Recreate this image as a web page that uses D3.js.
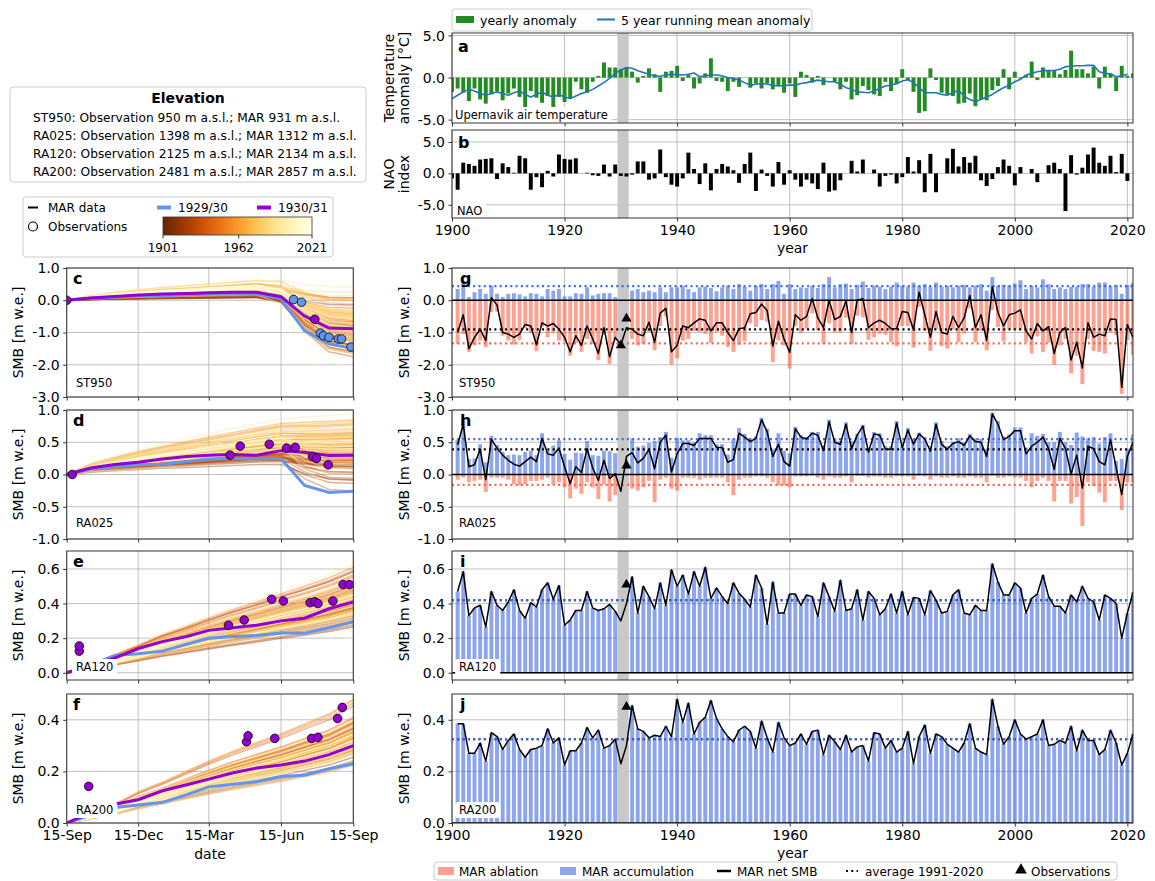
<!DOCTYPE html>
<html><head><meta charset="utf-8">
<script src="https://cdn.jsdelivr.net/npm/d3@7"></script>
<style>body{margin:0;background:#fff} text{font-family:"DejaVu Sans",sans-serif}</style>
</head><body><script>
// ---------------- DATA ----------------
const tempYears = d3.range(1900, 2022);
const tempAnomaly = [-1.7,-1.3,-1.8,-2.8,-1.3,-2.6,-3.1,-2.0,-1.6,-2.7,
-1.9,-1.3,-2.3,-3.5,-1.6,-2.4,-3.0,-2.2,-3.9,-2.3,
-2.9,-2.5,-0.5,-1.4,-1.8,-0.5,0.2,1.8,1.2,1.2,
1.0,1.2,0.7,-0.6,0.2,1.1,0.4,-1.7,0.7,0.8,
1.4,-0.4,0.3,-1.3,-0.7,0.5,2.3,-0.4,-0.5,-1.6,
-0.5,-1.1,0.0,-1.2,-0.7,-1.3,-0.7,-1.4,-1.0,-1.8,
-0.7,-2.3,0.7,0.3,-0.6,0.2,-0.9,0.0,-0.5,-1.4,
-0.5,-2.6,-2.1,-1.0,-1.5,-2.0,-2.2,-0.5,-1.6,-0.8,
1.0,-0.3,-1.7,-4.2,-4.0,1.1,-0.3,-1.8,-2.0,-2.2,
-3.1,-3.0,-1.9,-3.4,-2.6,-2.7,-1.5,-1.0,1.0,-1.4,
0.7,-0.1,0.3,1.9,-0.3,1.2,0.8,0.8,0.4,0.9,
3.2,1.0,1.0,0.5,1.3,-1.3,1.3,0.5,-1.6,1.4,
0.2,0.5];
const runYears = d3.range(1900, 2021);
const runningMean = [-2.5,-2.1,-1.7,-1.4,-1.6,-1.9,-2.1,-1.9,-1.7,-1.9,
-2.1,-1.8,-1.6,-2.0,-2.3,-2.0,-1.7,-2.1,-2.3,-2.0,
-2.3,-2.5,-2.2,-1.9,-1.7,-1.4,-1.0,-0.6,-0.1,0.5,
0.9,1.2,1.1,0.8,0.6,0.4,0.2,0.15,0.3,0.4,
0.35,0.3,0.4,0.55,0.1,0.2,0.3,0.3,0.2,0.0,
-0.1,-0.3,-0.6,-0.9,-0.8,-0.7,-0.8,-0.9,-1.0,-0.95,
-0.9,-0.9,-0.7,-0.6,-0.45,-0.3,-0.4,-0.5,-0.5,-0.8,
-1.2,-1.4,-1.7,-1.75,-1.8,-1.6,-1.3,-1.0,-0.9,-0.7,
-0.4,-0.25,-0.6,-1.2,-1.8,-1.8,-1.8,-2.0,-2.1,-1.8,
-1.5,-2.2,-2.6,-2.85,-2.6,-2.3,-2.0,-1.6,-1.2,-0.9,
-0.5,-0.2,0.3,0.5,0.7,0.8,0.85,0.85,1.0,1.3,
1.35,1.4,1.4,1.45,1.45,0.7,0.5,0.45,0.1,0.2,
0.4];
const naoYears = d3.range(1900, 2021);
const naoIndex = [-0.8,-2.6,1.7,1.5,1.2,2.2,2.3,2.4,-0.9,1.6,
1.0,0.1,2.8,2.4,-2.6,-0.6,-2.2,0.4,-0.5,3.0,
2.3,2.2,2.4,0.0,0.1,-0.3,-0.4,1.4,-0.5,1.4,
-0.4,-0.5,-0.2,1.9,1.9,-1.0,-0.8,3.8,-0.6,-1.8,
-2.1,-0.8,3.3,0.7,-1.7,1.6,-2.7,0.7,1.5,1.1,
0.5,-1.5,1.5,3.3,-2.8,0.6,-0.4,-2.1,1.8,-1.8,
0.5,-1.0,-2.1,-1.0,-1.6,-2.5,1.7,-2.9,-2.7,-1.1,
0.0,2.0,0.3,2.2,0.0,0.6,-2.1,-0.4,-0.2,-1.6,
-0.6,2.6,0.3,2.1,-3.0,3.1,-3.0,0.0,2.4,3.9,
1.1,2.6,1.7,2.8,-1.1,-2.0,-0.9,1.0,2.2,1.2,
-1.9,1.0,0.0,0.7,-1.4,0.0,1.3,1.7,0.7,-6.0,
2.9,-0.2,0.9,3.0,4.1,1.7,1.2,2.8,0.2,3.1,
-1.2];

const marYears = d3.range(1901, 2022);
// ST950
const st950Acc = [0.35,0.6,0.1,0.25,0.35,0.2,0.45,0.2,0.1,0.2,
0.22,0.18,0.12,0.22,0.2,0.12,0.35,0.3,0.35,0.12,
0.12,0.22,0.2,0.4,0.15,0.2,0.22,0.22,0.1,0.2,
0.28,0.3,0.35,0.25,0.3,0.25,0.4,0.25,0.4,0.4,
0.45,0.35,0.25,0.4,0.42,0.38,0.28,0.4,0.45,0.35,
0.5,0.42,0.3,0.45,0.5,0.35,0.5,0.6,0.2,0.5,
0.35,0.4,0.38,0.45,0.38,0.5,0.72,0.4,0.5,0.52,
0.35,0.48,0.58,0.38,0.45,0.42,0.35,0.42,0.55,0.45,
0.42,0.55,0.45,0.5,0.42,0.55,0.42,0.45,0.4,0.45,
0.48,0.4,0.45,0.5,0.3,0.72,0.45,0.48,0.45,0.52,
0.62,0.35,0.45,0.4,0.65,0.5,0.35,0.4,0.35,0.42,
0.42,0.5,0.5,0.42,0.55,0.55,0.42,0.48,0.2,0.48,0.55];
const st950Abl = [-1.35,-1.05,-1.6,-1.4,-1.25,-1.45,-0.37,-0.35,-1.1,-1.25,
-1.37,-1.23,-0.87,-1.02,-1.58,-0.82,-1.15,-1.02,-1.25,-1.27,
-1.72,-1.32,-1.6,-1.2,-1.35,-1.85,-1.07,-1.97,-1.25,-1.58,
-1.13,-1.2,-1.4,-1.35,-0.98,-1.55,-0.8,-0.5,-2.0,-1.8,
-1.25,-1.2,-0.95,-0.98,-1.04,-1.33,-0.98,-1.1,-1.45,-1.6,
-1.38,-1.27,-0.72,-0.83,-0.62,-0.67,-1.92,-1.25,-1.4,-2.12,
-0.8,-1.02,-0.88,-0.4,-0.93,-1.35,-0.72,-1.0,-1.0,-0.54,
-1.35,-0.48,-0.53,-1.23,-1.15,-1.04,-1.07,-1.3,-1.43,-0.8,
-0.8,-1.47,-0.2,-0.95,-1.57,-0.9,-1.42,-1.5,-0.9,-1.3,
-1.03,-0.25,-1.3,-0.95,-1.55,-0.3,-0.83,-1.28,-0.9,-0.92,
-0.92,-1.3,-1.65,-1.12,-1.6,-1.32,-2.0,-1.4,-1.2,-2.27,
-1.72,-2.6,-1.2,-1.57,-1.6,-1.65,-1.0,-1.08,-2.9,-1.23,-1.7];
const st950Net = [-1.0,-0.45,-1.5,-1.15,-0.9,-1.25,0.08,-0.15,-1.0,-1.05,
-1.15,-1.05,-0.75,-0.8,-1.38,-0.7,-0.8,-0.72,-0.9,-1.15,
-1.6,-1.1,-1.4,-0.8,-1.2,-1.65,-0.85,-1.75,-1.15,-1.38,
-0.85,-0.9,-1.05,-1.1,-0.68,-1.3,-0.4,-0.25,-1.6,-1.4,
-0.8,-0.85,-0.7,-0.58,-0.62,-0.95,-0.7,-0.7,-1.0,-1.25,
-0.88,-0.85,-0.42,-0.38,-0.12,-0.32,-1.42,-0.65,-1.2,-1.62,
-0.45,-0.62,-0.5,0.05,-0.55,-0.85,0.0,-0.6,-0.5,-0.02,
-1.0,0.0,0.05,-0.85,-0.7,-0.62,-0.72,-0.88,-0.88,-0.35,
-0.38,-0.92,0.25,-0.45,-1.15,-0.35,-1.0,-1.05,-0.5,-0.85,
-0.55,0.15,-0.85,-0.45,-1.25,0.42,-0.38,-0.8,-0.45,-0.4,
-0.3,-0.95,-1.2,-0.72,-0.95,-0.82,-1.65,-1.0,-0.85,-1.85,
-1.3,-2.1,-0.7,-1.15,-1.05,-1.1,-0.58,-0.6,-2.7,-0.75,-1.15];
// RA025
const ra025Acc = [0.54,0.83,0.24,0.25,0.47,0.19,0.6,0.46,0.35,0.3,
0.31,0.3,0.35,0.37,0.3,0.64,0.37,0.45,0.53,0.32,
0.23,0.34,0.33,0.52,0.3,0.29,0.37,0.36,0.33,0.27,
0.43,0.56,0.43,0.45,0.49,0.52,0.58,0.66,0.26,0.57,
0.53,0.53,0.5,0.64,0.61,0.61,0.47,0.47,0.31,0.55,
0.72,0.63,0.56,0.59,0.88,0.71,0.4,0.64,0.37,0.33,
0.74,0.61,0.58,0.66,0.66,0.45,0.85,0.55,0.52,0.81,
0.52,0.63,0.77,0.4,0.66,0.64,0.44,0.44,0.83,0.45,
0.72,0.55,0.65,0.58,0.44,0.81,0.52,0.44,0.51,0.56,
0.5,0.63,0.56,0.55,0.4,0.96,0.83,0.59,0.62,0.73,
0.73,0.42,0.64,0.6,0.63,0.5,0.5,0.66,0.5,0.46,
0.65,0.59,0.56,0.58,0.48,0.58,0.64,0.21,0.24,0.4,0.62];
const ra025Abl = [-0.08,-0.05,-0.12,-0.1,-0.08,-0.27,-0.05,-0.05,-0.05,-0.08,
-0.15,-0.17,-0.15,-0.1,-0.1,-0.08,-0.05,-0.15,-0.12,-0.2,
-0.37,-0.22,-0.3,-0.12,-0.2,-0.38,-0.15,-0.42,-0.32,-0.53,
-0.15,-0.22,-0.25,-0.2,-0.1,-0.43,-0.08,-0.05,-0.22,-0.25,
-0.05,-0.05,-0.05,-0.08,-0.05,-0.05,-0.05,-0.05,-0.12,-0.32,
-0.08,-0.05,-0.05,-0.03,-0.03,-0.05,-0.12,-0.17,-0.17,-0.2,
-0.03,-0.03,-0.03,-0.02,-0.05,-0.08,-0.03,-0.05,-0.05,-0.03,
-0.12,-0.02,-0.02,-0.05,-0.03,-0.03,-0.05,-0.05,-0.03,-0.03,
-0.03,-0.08,-0.02,-0.03,-0.08,-0.03,-0.05,-0.05,-0.03,-0.05,
-0.05,-0.03,-0.05,-0.05,-0.12,-0.02,-0.05,-0.05,-0.03,-0.05,
-0.05,-0.1,-0.2,-0.1,-0.05,-0.1,-0.42,-0.1,-0.1,-0.45,
-0.35,-0.8,-0.12,-0.18,-0.28,-0.43,-0.1,-0.1,-0.55,-0.12,-0.12];
const ra025Net = [0.46,0.78,0.12,0.15,0.39,-0.08,0.55,0.41,0.3,0.22,
0.16,0.13,0.2,0.27,0.2,0.56,0.32,0.3,0.41,0.12,
-0.14,0.12,0.03,0.4,0.1,-0.09,0.22,-0.06,0.01,-0.26,
0.28,0.34,0.18,0.25,0.39,0.09,0.5,0.61,0.04,0.32,
0.48,0.48,0.45,0.56,0.56,0.56,0.42,0.42,0.19,0.23,
0.64,0.58,0.51,0.56,0.85,0.66,0.28,0.47,0.2,0.13,
0.71,0.58,0.55,0.64,0.61,0.37,0.82,0.5,0.47,0.78,
0.4,0.61,0.75,0.35,0.63,0.61,0.39,0.39,0.8,0.42,
0.69,0.47,0.63,0.55,0.36,0.78,0.47,0.39,0.48,0.51,
0.45,0.6,0.51,0.5,0.28,0.94,0.78,0.54,0.59,0.68,
0.68,0.32,0.44,0.5,0.58,0.4,0.08,0.56,0.4,0.01,
0.3,-0.21,0.44,0.4,0.2,0.15,0.54,0.11,-0.31,0.28,0.5];
// RA120 (ablation ~0: accumulation bars equal net)
const ra120Net = [0.47,0.585,0.33,0.375,0.39,0.265,0.47,0.39,0.36,0.41,
0.48,0.36,0.315,0.405,0.38,0.48,0.52,0.425,0.505,0.275,
0.305,0.36,0.36,0.47,0.375,0.36,0.37,0.395,0.355,0.3,
0.4,0.555,0.345,0.5,0.44,0.37,0.52,0.39,0.595,0.5,
0.565,0.455,0.585,0.5,0.61,0.43,0.49,0.44,0.4,0.52,
0.46,0.425,0.38,0.565,0.49,0.28,0.525,0.345,0.345,0.455,
0.455,0.39,0.45,0.44,0.325,0.52,0.44,0.355,0.535,0.36,
0.37,0.48,0.305,0.47,0.43,0.335,0.37,0.455,0.345,0.47,
0.335,0.435,0.43,0.335,0.475,0.42,0.345,0.355,0.45,0.48,
0.345,0.335,0.39,0.36,0.36,0.63,0.525,0.45,0.45,0.52,
0.49,0.345,0.43,0.455,0.565,0.44,0.385,0.385,0.345,0.45,
0.41,0.5,0.43,0.41,0.305,0.45,0.43,0.4,0.2,0.345,0.465];
// RA200
const ra200Net = [0.385,0.385,0.27,0.27,0.31,0.24,0.35,0.335,0.285,0.32,
0.345,0.285,0.255,0.285,0.29,0.3,0.365,0.31,0.33,0.225,
0.28,0.28,0.31,0.37,0.33,0.36,0.29,0.3,0.325,0.23,
0.3,0.455,0.365,0.355,0.33,0.34,0.335,0.375,0.335,0.48,
0.39,0.465,0.345,0.39,0.41,0.475,0.405,0.365,0.335,0.315,
0.36,0.375,0.355,0.29,0.395,0.33,0.275,0.39,0.33,0.3,
0.31,0.345,0.305,0.355,0.36,0.265,0.34,0.315,0.285,0.34,
0.275,0.295,0.3,0.24,0.35,0.345,0.29,0.32,0.275,0.29,
0.355,0.23,0.335,0.38,0.27,0.345,0.335,0.305,0.29,0.275,
0.31,0.385,0.29,0.275,0.265,0.48,0.375,0.305,0.335,0.4,
0.345,0.325,0.335,0.345,0.4,0.3,0.305,0.32,0.31,0.375,
0.28,0.36,0.32,0.32,0.265,0.285,0.36,0.31,0.225,0.27,0.345];

// 1991-2020 averages [accumulation, net, ablation]
const avgST950 = [0.44, -0.9, -1.34];
const avgRA025 = [0.55, 0.39, -0.16];
const avgRA120 = [0.42, 0.42, 0.0];
const avgRA200 = [0.325, 0.325, 0.0];

// Observations (annual) [year, value]
const obsST950 = [[1930,-1.4],[1931,-0.57]];
const obsRA025 = [[1931,0.14]];
const obsRA120 = [[1931,0.51]];
const obsRA200 = [[1931,0.45]];

// seasonal panels: days since 15-Sep
const seasonDays = [0,30,61,91,122,153,181,212,242,273,303,334,365];
const dateTicks = [0,91,181,273,365];
const dateLabels = ["15-Sep","15-Dec","15-Mar","15-Jun","15-Sep"];
// seasonal cumulative fractions (accumulation / ablation)
const accFracST950 = [0,0.2,0.35,0.45,0.55,0.62,0.7,0.78,0.85,0.9,0.94,0.97,1];
const ablFracST950 = [0,0,0,0,0,0,0,0,0,0.1,0.6,0.92,1];
const accFracRA025 = [0,0.18,0.3,0.4,0.5,0.58,0.66,0.74,0.82,0.9,0.94,0.97,1];
const ablFracRA025 = [0,0,0,0,0,0,0,0,0,0.05,0.6,0.93,1];
const fracRA120 = [0,0.08,0.17,0.26,0.36,0.44,0.52,0.6,0.67,0.75,0.82,0.9,1];
const fracRA200 = [0,0.07,0.15,0.25,0.33,0.42,0.5,0.58,0.65,0.72,0.8,0.88,1];

const st950_1929 = [0,0.06,0.1,0.13,0.15,0.17,0.19,0.2,0.2,0.05,-0.95,-1.35,-1.5];
const st950_1930 = [0,0.07,0.12,0.16,0.19,0.21,0.23,0.25,0.25,0.11,-0.49,-0.86,-0.88];
const ra025_1929 = [0,0.08,0.12,0.15,0.16,0.2,0.24,0.245,0.245,0.245,-0.17,-0.28,-0.26];
const ra025_1930 = [0,0.1,0.155,0.19,0.24,0.28,0.3,0.31,0.3,0.37,0.345,0.295,0.3];
const ra120_1929 = [0,0.04,0.1,0.11,0.125,0.165,0.2,0.21,0.215,0.23,0.23,0.26,0.295];
const ra120_1930 = [0,0.04,0.085,0.14,0.18,0.21,0.245,0.26,0.275,0.3,0.315,0.37,0.41];
const ra200_1929 = [0,0.03,0.06,0.07,0.08,0.11,0.14,0.15,0.16,0.18,0.185,0.21,0.23];
const ra200_1930 = [0,0.04,0.073,0.09,0.125,0.148,0.17,0.195,0.213,0.225,0.24,0.265,0.3];

// point observations [day, value]
const obsSt950_1929 = [[289,0.02],[299,-0.06],[323,-1.02],[327,-1.1],[334,-1.15],[346,-1.2],[350,-1.2],[362,-1.45]];
const obsSt950_1930 = [[0,0],[316,-0.59]];
const obsRa025_1930 = [[7,0],[208,0.3],[221,0.44],[258,0.47],[280,0.41],[291,0.42],[313,0.28],[318,0.25],[333,0.15]];
const obsRa120_1930 = [[16,0.125],[16,0.155],[206,0.275],[226,0.305],[261,0.425],[276,0.415],[310,0.405],[316,0.41],[320,0.4],[339,0.415],[352,0.51],[360,0.51]];
const obsRa200_1930 = [[28,0.142],[229,0.315],[231,0.338],[265,0.328],[312,0.328],[320,0.332],[345,0.405],[351,0.448]];

const elevationLines = [
 "ST950: Observation 950 m a.s.l.; MAR 931 m a.s.l.",
 "RA025: Observation 1398 m a.s.l.; MAR 1312 m a.s.l.",
 "RA120: Observation 2125 m a.s.l.; MAR 2134 m a.s.l.",
 "RA200: Observation 2481 m a.s.l.; MAR 2857 m a.s.l."];

// ---------------- DRAWING ----------------
const FONT = "DejaVu Sans";
const C_ACC = "royalblue", C_ABL = "tomato", C_BLUE = "cornflowerblue", C_PURP = "darkviolet";
const svg = d3.select("body").append("svg").attr("width",1155).attr("height",881);
const defs = svg.append("defs");
let cid = 0;
const fmt1 = d => d.toFixed(1);

function panel(o){
  const x = d3.scaleLinear().domain(o.xd).range([o.x0,o.x1]);
  const y = d3.scaleLinear().domain(o.yd).range([o.y1,o.y0]);
  const root = svg.append("g");
  const id = "cp"+(cid++);
  defs.append("clipPath").attr("id",id).append("rect")
    .attr("x",o.x0).attr("y",o.y0).attr("width",o.x1-o.x0).attr("height",o.y1-o.y0);
  const grid = root.append("g");
  o.xt.forEach(t=>grid.append("line").attr("x1",x(t)).attr("x2",x(t)).attr("y1",o.y0).attr("y2",o.y1)
    .attr("stroke","#b0b0b0").attr("stroke-width",0.8));
  o.yt.forEach(t=>grid.append("line").attr("y1",y(t)).attr("y2",y(t)).attr("x1",o.x0).attr("x2",o.x1)
    .attr("stroke","#b0b0b0").attr("stroke-width",0.8));
  const data = root.append("g").attr("clip-path",`url(#${id})`);
  const top = root.append("g");
  const xa = root.append("g").attr("transform",`translate(0,${o.y1})`)
    .call(d3.axisBottom(x).tickValues(o.xt).tickSize(3.5).tickPadding(3.5)
      .tickFormat(o.xl ? o.xf : ()=>""));
  const ya = root.append("g").attr("transform",`translate(${o.x0},0)`)
    .call(d3.axisLeft(y).tickValues(o.yt).tickSize(3.5).tickPadding(3.5).tickFormat(fmt1));
  [xa,ya].forEach(a=>{
    a.select(".domain").remove();
    a.selectAll("text").attr("font-size",14).attr("font-family",FONT).attr("fill","#000");
    a.selectAll("line").attr("stroke","#333");
  });
  root.append("rect").attr("x",o.x0).attr("y",o.y0).attr("width",o.x1-o.x0).attr("height",o.y1-o.y0)
    .attr("fill","none").attr("stroke","#333").attr("stroke-width",1);
  return {x,y,data,top,root,o};
}

function letter(p, t, x, y){
  p.top.append("text").attr("x",x).attr("y",y).attr("font-size",16).attr("font-weight","bold").text(t);
}
function boxLabel(p, t, x, yc, size){
  const gg = p.top.append("g");
  const r = gg.append("rect").attr("fill","white").attr("rx",3);
  const tx = gg.append("text").attr("x",x).attr("y",yc).attr("dy","0.35em").attr("font-size",size||11.5).text(t);
  const w = tx.node().getComputedTextLength();
  r.attr("x",x-4).attr("y",yc-8).attr("width",w+8).attr("height",16);
}
function ylab(lines, xs, yc){
  lines.forEach((l,i)=>svg.append("text").attr("transform",`translate(${xs[i]},${yc}) rotate(-90)`)
    .attr("text-anchor","middle").attr("dominant-baseline","central").attr("font-size",14).text(l));
}

const RX0 = 452, RX1 = 1133, LX0 = 66.7, LX1 = 353.3;
const yearTicks = [1900,1920,1940,1960,1980,2000,2020];
const rows = {
  a:{y0:33,y1:123,yd:[-5.4,5.3],yt:[-5,0,5]},
  b:{y0:130,y1:218,yd:[-7.1,6.9],yt:[-5,0,5]},
  g:{y0:268,y1:397,yd:[-3,1],yt:[-3,-2,-1,0,1]},
  h:{y0:410,y1:539,yd:[-1,1],yt:[-1,-0.5,0,0.5,1]},
  i:{y0:551,y1:680,yd:[-0.042,0.704],yt:[0,0.2,0.4,0.6]},
  j:{y0:694,y1:823,yd:[0,0.5],yt:[0,0.2,0.4]}
};
function rightPanel(r, xl){
  return panel({x0:RX0,x1:RX1,y0:r.y0,y1:r.y1,xd:[1900,2021],yd:r.yd,xt:yearTicks,yt:r.yt,xl:xl,xf:d=>String(d)});
}
function leftPanel(r, xl){
  return panel({x0:LX0,x1:LX1,y0:r.y0,y1:r.y1,xd:[0,365],yd:r.yd,xt:dateTicks,yt:r.yt,xl:xl,xf:(d,i)=>dateLabels[i]});
}
const BAND = [1929.4,1931.4];
function band(p){
  p.data.append("rect").attr("x",p.x(BAND[0])).attr("width",p.x(BAND[1])-p.x(BAND[0]))
    .attr("y",p.o.y0).attr("height",p.o.y1-p.o.y0).attr("fill","#c8c8c8");
}
function bars(p, yrs, vals, color, op, wFrac){
  const bw = (p.x(1901)-p.x(1900))*wFrac;
  p.data.append("g").selectAll("rect").data(vals).join("rect")
    .attr("x",(d,i)=>p.x(yrs[i])-bw/2).attr("width",bw)
    .attr("y",d=>p.y(Math.max(0,d))).attr("height",d=>Math.abs(p.y(d)-p.y(0)))
    .attr("fill",color).attr("fill-opacity",op);
}
function hline(p, v, color, dash, w){
  p.data.append("line").attr("x1",p.o.x0).attr("x2",p.o.x1).attr("y1",p.y(v)).attr("y2",p.y(v))
    .attr("stroke",color).attr("stroke-width",w).attr("stroke-dasharray",dash||null);
}
function yline(p, yrs, vals, color, w){
  p.data.append("path").datum(vals).attr("fill","none").attr("stroke",color).attr("stroke-width",w)
    .attr("stroke-linejoin","round")
    .attr("d",d3.line().x((d,i)=>p.x(yrs[i])).y(d=>p.y(d)));
}
function triangles(p, obs){
  p.top.selectAll("path.tri").data(obs).join("path")
    .attr("transform",d=>`translate(${p.x(d[0])},${p.y(d[1])})`)
    .attr("d",d3.symbol(d3.symbolTriangle).size(45)).attr("fill","black");
}
function smbPanel(p, acc, abl, net, avg, obs){
  bars(p, marYears, acc, C_ACC, 0.6, 0.7);
  if(abl) bars(p, marYears, abl, C_ABL, 0.6, 0.7);
  band(p);
  hline(p, 0, "black", null, 1.5);
  hline(p, avg[1], "black", "2,3.3", 2.2);
  hline(p, avg[0], C_ACC, "2,3.3", 2.2);
  if(abl) hline(p, avg[2], C_ABL, "2,3.3", 2.2);
  yline(p, marYears, net, "black", 1.5);
  triangles(p, obs);
}

// ---- panel a ----
const pa = rightPanel(rows.a, false);
band(pa);
bars(pa, tempYears, tempAnomaly, "forestgreen", 1, 0.7);
yline(pa, runYears, runningMean, "#1f77b4", 1.6);
letter(pa,"a",458,52);
boxLabel(pa,"Upernavik air temperature",455,115,11.5);
ylab(["Temperature","anomaly [°C]"],[389,404],78);

// ---- panel b ----
const pb = rightPanel(rows.b, true);
band(pb);
bars(pb, naoYears, naoIndex, "black", 1, 0.7);
letter(pb,"b",458,148);
boxLabel(pb,"NAO",457,211,11.5);
ylab(["NAO","index"],[389,404],174);
svg.append("text").attr("x",(RX0+RX1)/2).attr("y",253).attr("text-anchor","middle").attr("font-size",14).text("year");

// ---- panel g-j ----
const pg = rightPanel(rows.g,false);
smbPanel(pg, st950Acc, st950Abl, st950Net, avgST950, obsST950);
letter(pg,"g",460,284); boxLabel(pg,"ST950",459,383);
const ph = rightPanel(rows.h,false);
smbPanel(ph, ra025Acc, ra025Abl, ra025Net, avgRA025, obsRA025);
letter(ph,"h",460,426); boxLabel(ph,"RA025",459,523);
const pi = rightPanel(rows.i,false);
smbPanel(pi, ra120Net, null, ra120Net, avgRA120, obsRA120);
letter(pi,"i",460,567); boxLabel(pi,"RA120",459,667);
const pj = rightPanel(rows.j,true);
smbPanel(pj, ra200Net, null, ra200Net, avgRA200, obsRA200);
letter(pj,"j",460,710); boxLabel(pj,"RA200",459,810);
[rows.g,rows.h,rows.i,rows.j].forEach(r=>ylab(["SMB [m w.e.]"],[404],(r.y0+r.y1)/2));
svg.append("text").attr("x",(RX0+RX1)/2).attr("y",858).attr("text-anchor","middle").attr("font-size",14).text("year");

// ---- left seasonal panels ----
const yearColor = yr => d3.interpolateYlOrBr(1-(yr-1901)/120);
function seasonal(p, acc, accFrac, abl, ablFrac, hl29, hl30, obs29, obs30){
  const ln = d3.line().x((d,k)=>p.x(seasonDays[k])).y(d=>p.y(d));
  marYears.forEach((yr,i)=>{
    const vals = seasonDays.map((d,k)=>acc[i]*accFrac[k] + (abl ? abl[i]*ablFrac[k] : 0));
    p.data.append("path").datum(vals).attr("d",ln).attr("fill","none")
      .attr("stroke",yearColor(yr)).attr("stroke-opacity",0.4).attr("stroke-width",1.5);
  });
  p.data.append("path").datum(hl29).attr("d",ln).attr("fill","none").attr("stroke",C_BLUE).attr("stroke-width",3);
  p.data.append("path").datum(hl30).attr("d",ln).attr("fill","none").attr("stroke",C_PURP).attr("stroke-width",3);
  [[obs29,C_BLUE],[obs30,C_PURP]].forEach(([ob,c])=>{
    if(!ob) return;
    p.data.append("g").selectAll("circle").data(ob).join("circle")
      .attr("cx",d=>p.x(d[0])).attr("cy",d=>p.y(d[1])).attr("r",4.3)
      .attr("fill",c).attr("stroke","black").attr("stroke-width",0.8);
  });
}
const pc = leftPanel(rows.g,false);
seasonal(pc, st950Acc, accFracST950, st950Abl, ablFracST950, st950_1929, st950_1930, obsSt950_1929, obsSt950_1930);
letter(pc,"c",73,284); boxLabel(pc,"ST950",76,383);
const pd = leftPanel(rows.h,false);
seasonal(pd, ra025Acc, accFracRA025, ra025Abl, ablFracRA025, ra025_1929, ra025_1930, null, obsRa025_1930);
letter(pd,"d",73,426); boxLabel(pd,"RA025",76,523);
const pe = leftPanel(rows.i,false);
seasonal(pe, ra120Net, fracRA120, null, null, ra120_1929, ra120_1930, null, obsRa120_1930);
letter(pe,"e",73,567); boxLabel(pe,"RA120",76,667);
const pf = leftPanel(rows.j,true);
seasonal(pf, ra200Net, fracRA200, null, null, ra200_1929, ra200_1930, null, obsRa200_1930);
letter(pf,"f",73,710); boxLabel(pf,"RA200",76,810);
[rows.g,rows.h,rows.i,rows.j].forEach(r=>ylab(["SMB [m w.e.]"],[18],(r.y0+r.y1)/2));
svg.append("text").attr("x",(LX0+LX1)/2).attr("y",859).attr("text-anchor","middle").attr("font-size",14).text("date");

// ---- legends ----
function legBox(x,y,w,h){
  svg.append("rect").attr("x",x).attr("y",y).attr("width",w).attr("height",h).attr("rx",3)
    .attr("fill","white").attr("fill-opacity",0.85).attr("stroke","#cccccc").attr("stroke-width",1);
}
function legText(x,y,t,size){ svg.append("text").attr("x",x).attr("y",y).attr("font-size",size||12).text(t); }

// panel a legend
legBox(452,9,360,22);
svg.append("rect").attr("x",456).attr("y",16).attr("width",18).attr("height",7).attr("fill","forestgreen");
legText(480,24.5,"yearly anomaly",12.5);
svg.append("line").attr("x1",597).attr("x2",615).attr("y1",19.5).attr("y2",19.5).attr("stroke","#1f77b4").attr("stroke-width",2);
legText(621,24.5,"5 year running mean anomaly",12.5);

// elevation box
legBox(10,87,356,95);
svg.append("text").attr("x",188).attr("y",103).attr("text-anchor","middle").attr("font-size",14).attr("font-weight","bold").text("Elevation");
elevationLines.forEach((t,i)=>legText(33,121.5+i*18,t,12.2));

// left legend
legBox(23,197,310,60);
svg.append("line").attr("x1",28).attr("x2",38).attr("y1",207.5).attr("y2",207.5).attr("stroke","black").attr("stroke-width",2);
legText(48,212,"MAR data");
svg.append("circle").attr("cx",33).attr("cy",226.5).attr("r",4.5).attr("fill","white").attr("stroke","black").attr("stroke-width",1.2);
legText(48,231,"Observations");
svg.append("line").attr("x1",157).attr("x2",171).attr("y1",207.5).attr("y2",207.5).attr("stroke",C_BLUE).attr("stroke-width",4);
legText(178,212,"1929/30");
svg.append("line").attr("x1",257).attr("x2",271).attr("y1",207.5).attr("y2",207.5).attr("stroke",C_PURP).attr("stroke-width",4);
legText(278,212,"1930/31");
const grad = defs.append("linearGradient").attr("id","cbar");
d3.range(0,1.0001,0.05).forEach(t=>grad.append("stop").attr("offset",t).attr("stop-color",yearColor(1901+120*t)));
const cbx = d3.scaleLinear().domain([1901,2021]).range([163,312]);
svg.append("rect").attr("x",163).attr("y",217).attr("width",149).attr("height",18).attr("fill","url(#cbar)").attr("stroke","#333").attr("stroke-width",0.8);
[1901,1962,2021].forEach(v=>{
  svg.append("line").attr("x1",cbx(v)).attr("x2",cbx(v)).attr("y1",235).attr("y2",238.5).attr("stroke","#333");
  svg.append("text").attr("x",cbx(v)).attr("y",252).attr("text-anchor","middle").attr("font-size",12).text(v);
});

// bottom legend
legBox(434,862,683,18);
svg.append("rect").attr("x",438).attr("y",867).attr("width",16).attr("height",8).attr("fill",C_ABL).attr("fill-opacity",0.6);
legText(459,875.5,"MAR ablation");
svg.append("rect").attr("x",560).attr("y",867).attr("width",16).attr("height",8).attr("fill",C_ACC).attr("fill-opacity",0.6);
legText(582,875.5,"MAR accumulation");
svg.append("line").attr("x1",717).attr("x2",731).attr("y1",871).attr("y2",871).attr("stroke","black").attr("stroke-width",2.5);
legText(737,875.5,"MAR net SMB");
svg.append("line").attr("x1",846).attr("x2",858).attr("y1",871).attr("y2",871).attr("stroke","black").attr("stroke-width",2.2).attr("stroke-dasharray","2,3.3");
legText(865,875.5,"average 1991-2020");
svg.append("path").attr("transform","translate(1021,870)").attr("d",d3.symbol(d3.symbolTriangle).size(60)).attr("fill","black");
legText(1031,875.5,"Observations");
</script></body></html>
